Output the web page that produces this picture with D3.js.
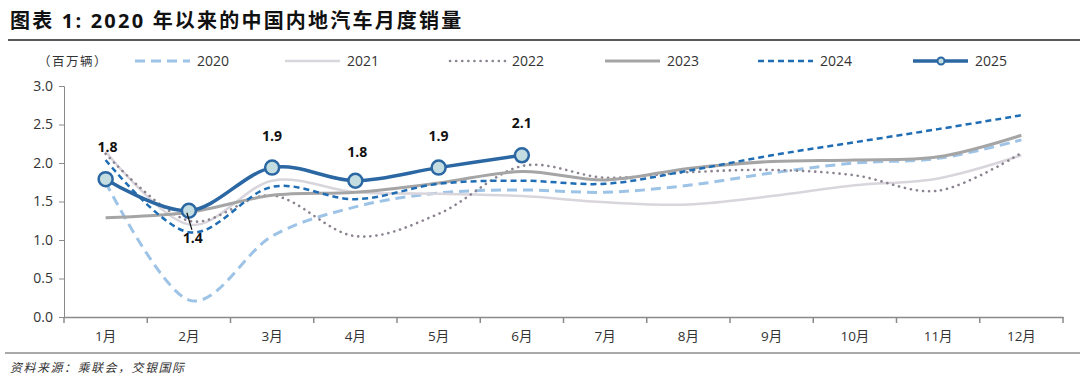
<!DOCTYPE html>
<html>
<head>
<meta charset="utf-8">
<script src="https://cdn.jsdelivr.net/npm/d3@7"></script>
<style>
  body { margin: 0; background: #fff; }
  text { font-family: "Open Sans", "Noto Sans CJK SC", sans-serif; }
</style>
</head>
<body>
<div id="graph"></div>
<script>
var months = ["1月", "2月", "3月", "4月", "5月", "6月", "7月", "8月", "9月", "10月", "11月", "12月"];
var yTicks = [0, 0.5, 1.0, 1.5, 2.0, 2.5, 3.0];

var s2020 = [1.75, 0.22, 1.05, 1.43, 1.61, 1.65, 1.62, 1.71, 1.87, 2.00, 2.06, 2.30];
var s2021 = [2.15, 1.20, 1.77, 1.62, 1.60, 1.57, 1.49, 1.46, 1.57, 1.71, 1.80, 2.10];
var s2022 = [2.12, 1.25, 1.58, 1.05, 1.34, 1.96, 1.81, 1.88, 1.91, 1.84, 1.64, 2.13];
var s2023 = [1.29, 1.36, 1.58, 1.62, 1.74, 1.89, 1.78, 1.93, 2.02, 2.04, 2.08, 2.36];
var s2024 = [2.04, 1.10, 1.69, 1.53, 1.73, 1.77, 1.73, 1.90, 2.10, 2.27, 2.44, 2.62];
var s2025 = [1.79, 1.38, 1.94, 1.77, 1.94, 2.10];
var labels2025 = ["1.8", "1.4", "1.9", "1.8", "1.9", "2.1"];

var W = 1080, H = 384;
var margin = {top: 86, right: 17, bottom: 67, left: 64},
    width = W - margin.left - margin.right,
    height = H - margin.top - margin.bottom;

var series = [
  {name: "2020", data: s2020, color: "#9dc3e6", w: 3, dash: "10,6", cap: "butt"},
  {name: "2021", data: s2021, color: "#d9d5dc", w: 2.5, dash: null, cap: "butt"},
  {name: "2022", data: s2022, color: "#8c8390", w: 2.6, dash: "0.1,6", cap: "round"},
  {name: "2023", data: s2023, color: "#a5a5a5", w: 3, dash: null, cap: "butt"},
  {name: "2024", data: s2024, color: "#1f6db5", w: 2.5, dash: "6,4", cap: "butt"},
  {name: "2025", data: s2025, color: "#2b67a3", w: 3.5, dash: null, cap: "butt", marker: true}
];

var svg = d3.select("#graph").append("svg")
    .attr("width", W)
    .attr("height", H);

// title
svg.append("text")
    .attr("x", 10).attr("y", 28)
    .attr("font-family", "'Noto Sans CJK SC', sans-serif")
    .attr("font-weight", "bold")
    .attr("font-size", 20)
    .attr("letter-spacing", 2.2)
    .attr("fill", "#111")
    .text("图表 1: 2020 年以来的中国内地汽车月度销量");

svg.append("line")
    .attr("x1", 8).attr("x2", W).attr("y1", 40).attr("y2", 40)
    .attr("stroke", "#222").attr("stroke-width", 1.5);

var g = svg.append("g")
    .attr("transform", "translate(" + margin.left + "," + margin.top + ")");

var x = d3.scaleBand().domain(months).range([0, width]);
var y = d3.scaleLinear().domain([0, 3]).range([height, 0]);

// y axis
var yAxis = g.append("g")
    .call(d3.axisLeft(y).tickValues(yTicks).tickFormat(d3.format(".1f")).tickSize(5).tickPadding(6));
yAxis.select(".domain").attr("stroke", "#8a8a8a");
yAxis.selectAll(".tick line").attr("stroke", "#8a8a8a");
yAxis.selectAll("text").attr("font-size", 14).attr("fill", "#333");

// x axis with ticks between categories
var xAxis = g.append("g")
    .attr("transform", "translate(0," + height + ")")
    .call(d3.axisBottom(x).tickSize(0).tickPadding(14));
xAxis.select(".domain").attr("stroke", "#8a8a8a").attr("stroke-width", 1.5);
xAxis.selectAll("text").attr("font-size", 13.5).attr("fill", "#333")
    .attr("font-family", "'Noto Sans CJK SC', sans-serif");
g.selectAll(".xsep")
    .data(d3.range(months.length + 1))
    .enter().append("line")
    .attr("x1", function(i) { return i * x.step(); })
    .attr("x2", function(i) { return i * x.step(); })
    .attr("y1", height).attr("y2", height + 6)
    .attr("stroke", "#8a8a8a").attr("stroke-width", 1.5);

var line = d3.line()
    .x(function(d, i) { return x(months[i]) + x.bandwidth() / 2; })
    .y(function(d) { return y(d); })
    .curve(d3.curveCardinal.tension(0));

series.forEach(function(s) {
  g.append("path")
      .datum(s.data)
      .attr("d", line)
      .attr("fill", "none")
      .attr("stroke", s.color)
      .attr("stroke-width", s.w)
      .attr("stroke-linecap", s.cap)
      .attr("stroke-dasharray", s.dash);
});

// 2025 markers
g.selectAll(".dot")
    .data(s2025)
    .enter().append("circle")
    .attr("cx", function(d, i) { return x(months[i]) + x.bandwidth() / 2; })
    .attr("cy", function(d) { return y(d); })
    .attr("r", 7)
    .attr("fill", "#c3dde0")
    .attr("stroke", "#2b67a3")
    .attr("stroke-width", 2.5);

// data labels
var labelOffsets = [[2, -27], [4, 32], [0, -27], [2, -24], [0, -27], [0, -27]];
g.selectAll(".lbl")
    .data(s2025)
    .enter().append("text")
    .attr("x", function(d, i) { return x(months[i]) + x.bandwidth() / 2 + labelOffsets[i][0]; })
    .attr("y", function(d, i) { return y(d) + labelOffsets[i][1]; })
    .attr("text-anchor", "middle")
    .attr("font-size", 14)
    .attr("font-weight", "bold")
    .attr("fill", "#111")
    .text(function(d, i) { return labels2025[i]; });

// leader line for Feb label
g.append("line")
    .attr("x1", x(months[1]) + x.bandwidth() / 2 - 2)
    .attr("y1", y(s2025[1]) + 2)
    .attr("x2", x(months[1]) + x.bandwidth() / 2 + 3)
    .attr("y2", y(s2025[1]) + 19)
    .attr("stroke", "#111").attr("stroke-width", 1.2);

// legend
svg.append("text")
    .attr("x", 38).attr("y", 66)
    .attr("font-family", "'Noto Sans CJK SC', sans-serif")
    .attr("font-size", 12.5)
    .attr("letter-spacing", 1.5)
    .attr("fill", "#333")
    .text("（百万辆）");

var legendX = [135, 285, 450, 605, 758, 913];
var leg = svg.selectAll(".leg")
    .data(series)
    .enter().append("g")
    .attr("transform", function(d, i) { return "translate(" + legendX[i] + ",61)"; });
leg.append("line")
    .attr("x1", 0).attr("x2", 55)
    .attr("stroke", function(d) { return d.color; })
    .attr("stroke-width", function(d) { return d.w; })
    .attr("stroke-linecap", function(d) { return d.cap; })
    .attr("stroke-dasharray", function(d) { return d.dash; });
leg.filter(function(d) { return d.marker; })
    .append("circle")
    .attr("cx", 28).attr("r", 3.5)
    .attr("fill", "#c3dde0").attr("stroke", "#2b67a3").attr("stroke-width", 2);
leg.append("text")
    .attr("x", 62).attr("y", 5)
    .attr("font-size", 14)
    .attr("fill", "#333")
    .text(function(d) { return d.name; });

// source
svg.append("line")
    .attr("x1", 5).attr("x2", W).attr("y1", 353).attr("y2", 353)
    .attr("stroke", "#555").attr("stroke-width", 1);
svg.append("text")
    .attr("x", 10).attr("y", 372)
    .attr("font-family", "'Noto Sans CJK SC', sans-serif")
    .attr("font-style", "italic")
    .attr("font-size", 12)
    .attr("letter-spacing", 1.5)
    .attr("fill", "#333")
    .text("资料来源：乘联会，交银国际");
</script>
</body>
</html>
